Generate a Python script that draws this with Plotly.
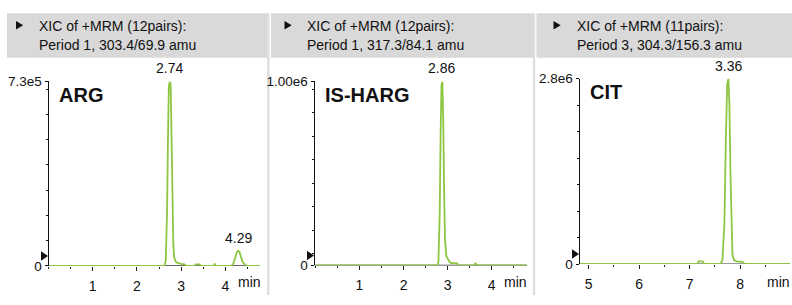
import plotly.graph_objects as go

W, H = 792, 305

# ---------------- data ----------------
# ARG  (XIC 303.4/69.9)
arg_time = [0.00, 0.50, 1.00, 1.50, 2.00, 2.40, 2.62, 2.65, 2.68, 2.70, 2.72, 2.74, 2.76, 2.78,
            2.80, 2.82, 2.84, 2.87, 2.90, 2.95, 3.00, 3.06, 3.12, 3.30, 3.33, 3.42, 3.45, 3.60,
            3.74, 3.76, 3.78, 4.10, 4.15, 4.19, 4.23, 4.26, 4.29, 4.32, 4.35, 4.39, 4.44, 4.48,
            4.60, 4.78]
arg_int = [0, 0, 0, 0, 0, 0, 0, 2.0e4, 2.2e5, 5.0e5, 7.1e5, 7.3e5, 7.2e5, 5.2e5,
           2.6e5, 9.0e4, 3.5e4, 1.8e4, 1.3e4, 1.0e4, 8.0e3, 7.0e3, 0, 0, 6.0e3, 6.0e3, 0, 0,
           0, 9.0e3, 0, 0, 2.0e3, 1.5e4, 4.0e4, 5.6e4, 6.0e4, 5.4e4, 3.5e4, 1.5e4, 5.0e3, 0,
           0, 0]
arg_peak_time = [2.74, 4.29]
arg_peak_label = ["2.74", "4.29"]

# IS-HARG (XIC 317.3/84.1)
harg_time = [0.00, 0.50, 1.00, 1.50, 2.00, 2.50, 2.76, 2.79, 2.82, 2.84, 2.86, 2.88, 2.90, 2.92,
             2.94, 2.97, 3.00, 3.03, 3.06, 3.10, 3.16, 3.22, 3.25, 3.60, 3.63, 3.66, 4.00, 4.50, 4.80]
harg_int = [0, 0, 0, 0, 0, 0, 0, 1.5e4, 2.8e5, 7.0e5, 9.8e5, 1.0e6, 8.0e5, 4.0e5,
            1.4e5, 5.0e4, 3.5e4, 2.5e4, 1.5e4, 1.2e4, 1.2e4, 1.0e4, 0, 0, 1.4e4, 0, 0, 0, 0]
harg_peak_time = [2.87]
harg_peak_label = ["2.86"]

# CIT (XIC 304.3/156.3)
cit_time = [4.82, 5.50, 6.00, 6.50, 7.00, 7.15, 7.18, 7.26, 7.29, 7.50, 7.61, 7.65, 7.69, 7.72,
            7.745, 7.77, 7.79, 7.81, 7.83, 7.85, 7.88, 7.93, 7.98, 8.03, 8.07, 8.09, 8.50, 8.99]
cit_int = [0, 0, 0, 0, 0, 0, 4.0e4, 4.0e4, 0, 0, 0, 5.0e4, 6.0e5, 1.9e6,
           2.7e6, 2.8e6, 2.4e6, 1.4e6, 5.0e5, 1.4e5, 6.0e4, 4.0e4, 3.5e4, 3.5e4, 2.0e4, 0, 0, 0]
cit_peak_time = [7.77]
cit_peak_label = ["3.36"]

header_line1 = ["XIC of +MRM (12pairs):", "XIC of +MRM (12pairs):", "XIC of +MRM (11pairs):"]
header_line2 = ["Period 1, 303.4/69.9 amu", "Period 1, 317.3/84.1 amu", "Period 3, 304.3/156.3 amu"]
compound = ["ARG", "IS-HARG", "CIT"]

x_ranges = [[0, 4.78], [-0.02, 4.80], [4.82, 8.99]]
x_tickvals = [[1, 2, 3, 4], [1, 2, 3, 4], [5, 6, 7, 8]]
y_max = [7.3e5, 1.0e6, 2.8e6]
y_max_label = ["7.3e5", "1.00e6", "2.8e6"]
y_minor_dtick = [1.0e5, 1.275e5, 4.0e5]
y_minor_tick0 = [0, 6.4e4, 0]

# ---------------- layout geometry (pixels) ----------------
plot_px = [  # (left, right, bottom, top)
    (48.5, 260.0, 272.3, 78.3),
    (314.5, 527.0, 271.8, 78.3),
    (579.5, 790.0, 270.3, 75.3),
]
header_px = [(7, 267.5), (271, 533.5), (536.5, 792)]
sep_px = [268.3, 534.0]
tri_px = [16, 284.5, 553.5]
text_px = [36.7, 305, 575]
min_px = [249, 515, 778]

GREEN = "#8DC641"
FONT = "Liberation Sans, Arial, sans-serif"


def fx(p):
    return p / W


def fy(p):
    return 1 - p / H


series = [(arg_time, arg_int, arg_peak_time, arg_peak_label),
          (harg_time, harg_int, harg_peak_time, harg_peak_label),
          (cit_time, cit_int, cit_peak_time, cit_peak_label)]

fig = go.Figure()
shapes = []
annotations = []

for k in range(3):
    t, inten, pk_t, pk_lab = series[k]
    xa = "x" if k == 0 else f"x{k+1}"
    ya = "y" if k == 0 else f"y{k+1}"
    l, r, b, tp = plot_px[k]

    # exposed baseline (dark) underneath the chromatogram
    fig.add_trace(go.Scatter(x=x_ranges[k], y=[0, 0], mode="lines",
                             line=dict(color="#333333", width=1.2),
                             xaxis=xa, yaxis=ya, hoverinfo="skip", showlegend=False))
    fig.add_trace(go.Scatter(x=t, y=inten, mode="lines",
                             line=dict(color=GREEN, width=1.8),
                             xaxis=xa, yaxis=ya, showlegend=False, name=compound[k]))

    axkey_x = "xaxis" if k == 0 else f"xaxis{k+1}"
    axkey_y = "yaxis" if k == 0 else f"yaxis{k+1}"
    fig.update_layout(**{
        axkey_x: dict(domain=[fx(l), fx(r)], range=x_ranges[k], anchor=ya,
                      showline=False, showgrid=False, zeroline=False,
                      tickmode="array", tickvals=x_tickvals[k],
                      ticks="outside", ticklen=4, tickwidth=1, tickcolor="#222",
                      ticklabelstandoff=3,
                      minor=dict(dtick=0.5, tick0=0.5, ticks="outside", ticklen=2,
                                 tickcolor="#222", tickwidth=1),
                      tickfont=dict(family=FONT, size=14, color="#111"),
                      fixedrange=True),
        axkey_y: dict(domain=[fy(b), fy(tp)], range=[0, y_max[k]], anchor=xa,
                      showline=True, linecolor="#111", linewidth=1,
                      showgrid=False, zeroline=False,
                      tickmode="array", tickvals=[0, y_max[k]],
                      ticktext=["0", y_max_label[k]],
                      ticks="outside", ticklen=3, tickwidth=1, tickcolor="#111",
                      minor=dict(tick0=y_minor_tick0[k], dtick=y_minor_dtick[k],
                                 ticks="outside", ticklen=2, tickcolor="#111"),
                      tickfont=dict(family=FONT, size=13.5, color="#111"),
                      fixedrange=True),
    })

    # header box
    hl, hr = header_px[k]
    shapes.append(dict(type="rect", xref="paper", yref="paper",
                       x0=fx(hl), x1=fx(hr), y0=fy(53.3), y1=fy(6.7),
                       fillcolor="#d9d9d9", line=dict(width=0), layer="below"))
    # header triangle
    tx = tri_px[k]
    shapes.append(dict(type="path", xref="paper", yref="paper",
                       path=f"M {fx(tx)},{fy(14.8)} L {fx(tx+7.2)},{fy(19.2)} L {fx(tx)},{fy(23.6)} Z",
                       fillcolor="#111", line=dict(width=0)))
    annotations.append(dict(xref="paper", yref="paper", x=fx(text_px[k]), y=fy(19.5),
                            xanchor="left", yanchor="middle", showarrow=False,
                            text=header_line1[k], font=dict(family=FONT, size=14, color="#111")))
    annotations.append(dict(xref="paper", yref="paper", x=fx(text_px[k]), y=fy(39.5),
                            xanchor="left", yanchor="middle", showarrow=False,
                            text=header_line2[k], font=dict(family=FONT, size=14, color="#111")))

    # y-axis indicator triangle
    shapes.append(dict(type="path", xref="paper", yref="paper",
                       path=f"M {fx(l-7.5)},{fy(b-15.5)} L {fx(l-0.5)},{fy(b-10.5)} L {fx(l-7.5)},{fy(b-5.5)} Z",
                       fillcolor="#111", line=dict(width=0)))

    # compound name
    annotations.append(dict(xref="paper", yref="paper", x=fx(l + 8.5), y=fy(tp + 14),
                            xanchor="left", yanchor="middle", showarrow=False,
                            text=f"<b>{compound[k]}</b>",
                            font=dict(family=FONT, size=20, color="#111")))
    # min label
    annotations.append(dict(xref="paper", yref="paper", x=fx(min_px[k]), y=fy(289.5),
                            xanchor="center", yanchor="middle", showarrow=False,
                            text="min", font=dict(family=FONT, size=14, color="#111")))
    # peak labels
    for pt, lab in zip(pk_t, pk_lab):
        apex = max(v for tt, v in zip(t, inten) if abs(tt - pt) <= 0.06)
        annotations.append(dict(xref=xa, yref=ya, x=pt, y=apex, xanchor="center",
                                yanchor="bottom", yshift=3, showarrow=False, text=lab,
                                font=dict(family=FONT, size=14, color="#111")))

# panel separators
for sx in sep_px:
    shapes.append(dict(type="rect", xref="paper", yref="paper",
                       x0=fx(sx - 1.2), x1=fx(sx + 1.2), y0=fy(303), y1=fy(6.7),
                       fillcolor="#dedede", line=dict(width=0), layer="below"))

fig.update_layout(width=W, height=H, margin=dict(l=0, r=0, t=0, b=0),
                  paper_bgcolor="white", plot_bgcolor="rgba(0,0,0,0)",
                  shapes=shapes, annotations=annotations, showlegend=False,
                  font=dict(family=FONT, color="#111"))

fig.write_html("out.html", config={"displayModeBar": False},
               post_script="document.body.style.margin='0px';document.body.style.overflow='hidden';")
